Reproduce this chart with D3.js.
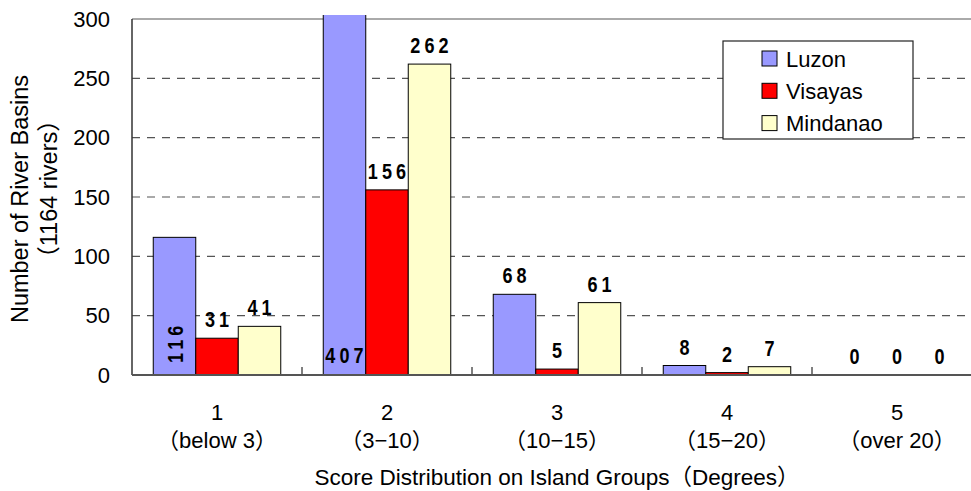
<!DOCTYPE html>
<html>
<head>
<meta charset="utf-8">
<script src="https://cdn.jsdelivr.net/npm/d3@7/dist/d3.min.js"></script>
<style>
  html, body { margin: 0; padding: 0; background: #fff; }
  svg { display: block; }
  text { font-family: "Liberation Sans", Arial, "Noto Sans CJK JP", sans-serif; fill: #000; }
</style>
</head>
<body>
<svg id="chart" width="971" height="491"></svg>
<script>
// Score classes (degrees) and their two-line tick labels
const categories = ["1", "2", "3", "4", "5"];
const categoryRanges = ["（below 3）", "（3−10）", "（10−15）", "（15−20）", "（over 20）"];
const seriesNames = ["Luzon", "Visayas", "Mindanao"];
const luzon = [116, 407, 68, 8, 0];
const visayas = [31, 156, 5, 2, 0];
const mindanao = [41, 262, 61, 7, 0];
const yTicks = [0, 50, 100, 150, 200, 250, 300];
const colors = ["#9999FF", "#FF0000", "#FFFFCC"];

const seriesValues = [luzon, visayas, mindanao];
const svg = d3.select("#chart");
const W = 971, H = 491;
const plot = { left: 132, right: 982, top: 19, bottom: 375 };

svg.append("rect").attr("width", W).attr("height", H).attr("fill", "#fff");

const x0 = d3.scaleBand().domain(categories).range([plot.left, plot.right]).padding(0);
const x1 = d3.scaleBand().domain(seriesNames).range([0, x0.bandwidth()])
  .paddingInner(0).paddingOuter(0.5);
const y = d3.scaleLinear().domain([0, 300]).range([plot.bottom, plot.top]);

// dashed gridlines
svg.append("g").selectAll("line")
  .data(yTicks.filter(t => t > 0 && t < 300))
  .join("line")
  .attr("x1", plot.left).attr("x2", W)
  .attr("y1", d => y(d)).attr("y2", d => y(d))
  .attr("stroke", "#555").attr("stroke-width", 1.2)
  .attr("stroke-dasharray", "8,7");

// top frame line
svg.append("line")
  .attr("x1", plot.left).attr("x2", W)
  .attr("y1", y(300)).attr("y2", y(300))
  .attr("stroke", "#aaa").attr("stroke-width", 2);

// bars (the tallest bar runs slightly past the top of the axis)
svg.append("clipPath").attr("id", "plotClip")
  .append("rect")
  .attr("x", plot.left).attr("y", plot.top - 4)
  .attr("width", plot.right - plot.left).attr("height", plot.bottom - plot.top + 4);

const rows = [];
categories.forEach((c, i) => {
  seriesNames.forEach((s, j) => {
    rows.push({ cat: c, series: s, j, value: seriesValues[j][i] });
  });
});

svg.append("g").attr("clip-path", "url(#plotClip)")
  .selectAll("rect")
  .data(rows.filter(d => d.value > 0))
  .join("rect")
  .attr("x", d => x0(d.cat) + x1(d.series))
  .attr("width", x1.bandwidth())
  .attr("y", d => y(d.value))
  .attr("height", d => y(0) - y(d.value))
  .attr("fill", d => colors[d.j])
  .attr("stroke", "#000").attr("stroke-width", 1);

// value labels: bold, narrow, widely spaced digits
const ls = 5; // letter spacing
const sx = 0.82; // horizontal squeeze
const labelG = svg.append("g")
  .attr("font-weight", "bold").attr("font-size", 22)
  .attr("letter-spacing", ls);
rows.forEach(d => {
  const cx = x0(d.cat) + x1(d.series) + x1.bandwidth() / 2;
  const t = labelG.append("text").text(d.value);
  if (d.value > 300) {
    // over-range bar: label placed inside at the base
    t.attr("transform", `translate(${cx},${y(0) - 12}) scale(${sx},1)`)
      .attr("x", ls / 2).attr("text-anchor", "middle");
  } else if (d.series === "Luzon" && d.cat === "1") {
    // vertical label inside the bar
    t.attr("transform", `translate(${cx + 8},${y(0) - 12}) rotate(-90) scale(${sx},1)`)
      .attr("text-anchor", "start");
  } else {
    t.attr("transform", `translate(${cx},${y(d.value) - 11}) scale(${sx},1)`)
      .attr("x", ls / 2).attr("text-anchor", "middle");
  }
});

// y axis
const yAxis = d3.axisLeft(y).tickValues(yTicks).tickSize(0).tickPadding(22);
const yg = svg.append("g").attr("transform", `translate(${plot.left},0)`).call(yAxis);
yg.select(".domain").remove();
yg.selectAll("text").attr("font-size", 22).attr("fill", "#000")
  .style("font-family", '"Liberation Sans", Arial, sans-serif');
svg.append("line")
  .attr("x1", plot.left).attr("x2", plot.left)
  .attr("y1", plot.top).attr("y2", plot.bottom)
  .attr("stroke", "#333").attr("stroke-width", 1.5);

// x axis with inward ticks at category boundaries
svg.append("line")
  .attr("x1", plot.left).attr("x2", W)
  .attr("y1", plot.bottom).attr("y2", plot.bottom)
  .attr("stroke", "#555").attr("stroke-width", 2);
svg.append("g").selectAll("line")
  .data(categories.slice(1))
  .join("line")
  .attr("x1", d => x0(d)).attr("x2", d => x0(d))
  .attr("y1", plot.bottom).attr("y2", plot.bottom - 8)
  .attr("stroke", "#555").attr("stroke-width", 1.5);

const xl = svg.append("g").attr("font-size", 22).attr("text-anchor", "middle");
categories.forEach((c, i) => {
  const cx = x0(c) + x0.bandwidth() / 2;
  xl.append("text").attr("x", cx).attr("y", 420).text(c);
  xl.append("text").attr("x", cx).attr("y", 448).text(categoryRanges[i]);
});

// axis titles
svg.append("text")
  .attr("x", (plot.left + plot.right) / 2).attr("y", 485)
  .attr("text-anchor", "middle").attr("font-size", 22.5)
  .text("Score Distribution on Island Groups（Degrees）");

const yt = svg.append("g").attr("transform", "translate(0,199) rotate(-90)")
  .attr("text-anchor", "middle").attr("font-size", 23.5);
yt.append("text").attr("x", 0).attr("y", 28).text("Number of River Basins");
yt.append("text").attr("x", 10).attr("y", 57).text("（1164 rivers）");

// legend
const lg = svg.append("g").attr("transform", "translate(723,41)");
lg.append("rect").attr("width", 190).attr("height", 98)
  .attr("fill", "#fff").attr("stroke", "#222").attr("stroke-width", 1.2);
seriesNames.forEach((s, j) => {
  const row = lg.append("g").attr("transform", `translate(39,${10 + j * 32.3})`);
  row.append("rect").attr("width", 15).attr("height", 15)
    .attr("fill", colors[j]).attr("stroke", "#000").attr("stroke-width", 1);
  row.append("text").attr("x", 24).attr("y", 15.5).attr("font-size", 22).text(s);
});
</script>
</body>
</html>
